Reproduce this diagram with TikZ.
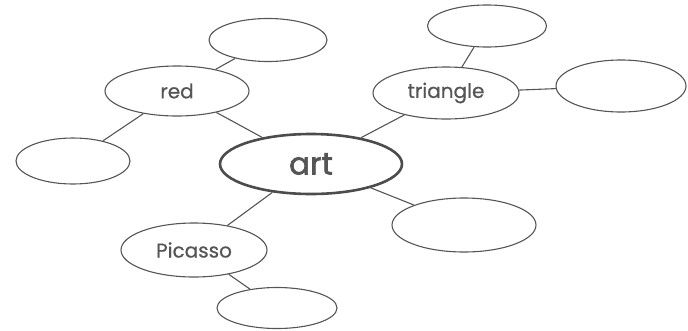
\documentclass[tikz,border=0pt]{standalone}
\usepackage{fontspec}
\setmainfont{Poppins}
\newfontfamily\labelfont{Poppins}[FakeBold=0.6]
\newfontfamily\hubfont{Poppins}[FakeBold=2]
\usetikzlibrary{shapes.geometric}
\definecolor{inkgrey}{HTML}{555555}
\tikzstyle{bubble} = [ellipse, draw=inkgrey, line width=1.1pt, inner sep=0pt, text=inkgrey, font=\labelfont\fontsize{20}{22}\selectfont]
\tikzstyle{hub} = [bubble, line width=2.6pt, draw=inkgrey!90!black, font=\hubfont\fontsize{31}{33}\selectfont]
\tikzstyle{link} = [draw=inkgrey, line width=1.1pt]

\begin{document}
\begin{tikzpicture}[x=1pt, y=-1pt]
      \useasboundingbox (0,0) rectangle (688,330);
      \node (art)[hub, minimum width=182pt, minimum height=60pt] at (311,164){art};
      \node (red)[bubble, minimum width=144pt, minimum height=50pt] at (177,91){red};
      \node (redtop)[bubble, minimum width=118pt, minimum height=43pt] at (268,40){};
      \node (redleft)[bubble, minimum width=114pt, minimum height=46pt] at (73,161){};
      \node (tri)[bubble, minimum width=146pt, minimum height=52pt] at (446,93){triangle};
      \node (tritop)[bubble, minimum width=119pt, minimum height=42pt] at (487,26){};
      \node (triright)[bubble, minimum width=130pt, minimum height=52pt] at (621,86){};
      \node (artbr)[bubble, minimum width=144pt, minimum height=54pt] at (464,225){};
      \node (pic)[bubble, minimum width=146pt, minimum height=54pt] at (194,250){Picasso};
      \node (picbot)[bubble, minimum width=120pt, minimum height=41pt] at (277,308){};
      \draw[link] (art)--(red);
      \draw[link] (red)--(redtop);
      \draw[link] (red)--(redleft);
      \draw[link] (art)--(tri);
      \draw[link] (tri)--(tritop);
      \draw[link] (tri)--(triright);
      \draw[link] (art)--(artbr);
      \draw[link] (art)--(pic);
      \draw[link] (pic)--(picbot);
    \end{tikzpicture}
\end{document}
